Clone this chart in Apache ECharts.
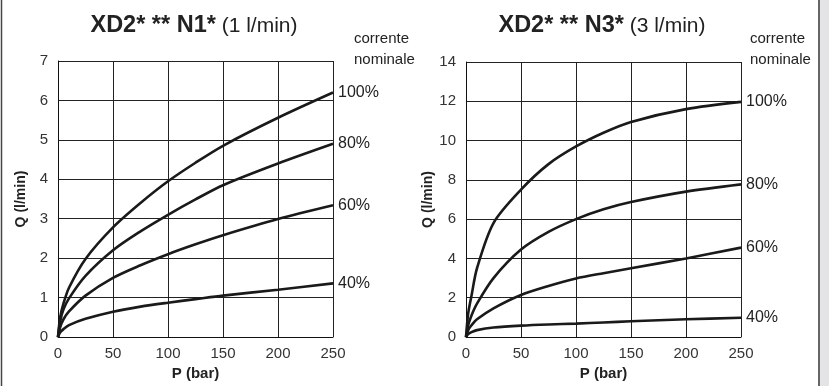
<!DOCTYPE html>
<html>
<head>
<meta charset="utf-8">
<script src="https://cdn.jsdelivr.net/npm/echarts@6/dist/echarts.min.js"></script>
<style>
html,body{margin:0;padding:0;background:#fff;}
#c{width:829px;height:386px;}
</style>
</head>
<body>
<div id="c"></div>
<script>
// ---- data ----
const pressure = [0, 2, 5, 10, 25, 50, 75, 100, 125, 150, 200, 250];
const seriesNames = ['100%', '80%', '60%', '40%'];

// XD2* ** N1* (1 l/min)
const n1_100 = [0, 0.5, 0.85, 1.25, 1.98, 2.78, 3.4, 3.95, 4.42, 4.85, 5.56, 6.2];
const n1_80  = [0, 0.4, 0.7, 0.98, 1.55, 2.2, 2.68, 3.1, 3.49, 3.85, 4.4, 4.9];
const n1_60  = [0, 0.25, 0.45, 0.65, 1.05, 1.5, 1.82, 2.1, 2.35, 2.58, 2.99, 3.34];
const n1_40  = [0, 0.12, 0.2, 0.3, 0.46, 0.64, 0.77, 0.87, 0.96, 1.05, 1.2, 1.36];

// XD2* ** N3* (3 l/min)
const n3_100 = [0, 1.2, 2.1, 3.5, 5.8, 7.5, 8.8, 9.7, 10.4, 10.95, 11.6, 11.97];
const n3_80  = [0, 0.6, 1.1, 1.7, 3.0, 4.45, 5.35, 6.0, 6.5, 6.87, 7.4, 7.77];
const n3_60  = [0, 0.35, 0.6, 0.9, 1.46, 2.14, 2.6, 2.98, 3.25, 3.5, 4.0, 4.55];
const n3_40  = [0, 0.15, 0.25, 0.35, 0.48, 0.58, 0.64, 0.68, 0.74, 0.8, 0.9, 0.98];

const xTicks = [0, 50, 100, 150, 200, 250];
const titles = [['XD2* ** N1*', ' (1 l/min)'], ['XD2* ** N3*', ' (3 l/min)']];
const yAxisName = 'Q (l/min)';
const xAxisName = 'P (bar)';
const legendNote = ['corrente', 'nominale'];

// ---- chart ----
const FONT = '"Liberation Sans", Arial, sans-serif';
const chart = echarts.init(document.getElementById('c'), null, {renderer: 'canvas'});

function pairs(ys) { return pressure.map((p, i) => [p, ys[i]]); }

function xAxisCfg(gi) {
  return {
    gridIndex: gi, type: 'value', min: xTicks[0], max: xTicks[xTicks.length - 1], interval: xTicks[1] - xTicks[0],
    name: xAxisName, nameLocation: 'middle', nameGap: 29,
    nameTextStyle: {fontFamily: FONT, fontWeight: 'bold', fontSize: 15, color: '#222'},
    axisLine: {show: true, lineStyle: {color: '#111', width: 1}},
    axisTick: {show: false},
    axisLabel: {fontFamily: FONT, fontSize: 15, color: '#333', margin: 9},
    splitLine: {show: true, lineStyle: {color: '#222', width: 1}}
  };
}
function yAxisCfg(gi, max, interval) {
  return {
    gridIndex: gi, type: 'value', min: 0, max: max, interval: interval,
    name: yAxisName, nameLocation: 'middle', nameGap: 30, nameRotate: 90,
    nameTextStyle: {fontFamily: FONT, fontWeight: 'bold', fontSize: 14, color: '#222'},
    axisLine: {show: true, lineStyle: {color: '#111', width: 1}},
    axisTick: {show: false},
    axisLabel: {fontFamily: FONT, fontSize: 15, color: '#333', margin: 10},
    splitLine: {show: true, lineStyle: {color: '#222', width: 1}}
  };
}
function lineSeries(gi, name, ys) {
  return {
    type: 'line', name: name, xAxisIndex: gi, yAxisIndex: gi,
    data: pairs(ys), smooth: 0.3, showSymbol: false, silent: true,
    lineStyle: {color: '#1a1a1a', width: 2.6},
    endLabel: {show: true, formatter: '{a}', distance: 5,
      fontFamily: FONT, fontSize: 16, color: '#222'},
    animation: false
  };
}
function titleCfg(i, left) {
  return {
    text: '{b|' + titles[i][0] + '}{n|' + titles[i][1] + '}',
    left: left, top: 9, textAlign: 'center',
    textStyle: {rich: {
      b: {fontFamily: FONT, fontWeight: 'bold', fontSize: 23.5, color: '#222'},
      n: {fontFamily: FONT, fontWeight: 'normal', fontSize: 21, color: '#222'}
    }}
  };
}

const option = {
  backgroundColor: '#ffffff',
  animation: false,
  title: [titleCfg(0, 189), titleCfg(1, 597)],
  grid: [
    {left: 58, top: 61, width: 275, height: 277},
    {left: 466, top: 62, width: 275, height: 276}
  ],
  xAxis: [xAxisCfg(0), xAxisCfg(1)],
  yAxis: [yAxisCfg(0, 7, 1), yAxisCfg(1, 14, 2)],
  series: [
    lineSeries(0, seriesNames[0], n1_100),
    lineSeries(0, seriesNames[1], n1_80),
    lineSeries(0, seriesNames[2], n1_60),
    lineSeries(0, seriesNames[3], n1_40),
    lineSeries(1, seriesNames[0], n3_100),
    lineSeries(1, seriesNames[1], n3_80),
    lineSeries(1, seriesNames[2], n3_60),
    lineSeries(1, seriesNames[3], n3_40)
  ],
  graphic: [
    {type: 'rect', shape: {x: 820, y: 0, width: 9, height: 386}, style: {fill: '#e4e4e6'}, silent: true},
    {type: 'line', shape: {x1: 1.5, y1: 0, x2: 1.5, y2: 386}, style: {stroke: '#444', lineWidth: 1.5}, silent: true},
    {type: 'line', shape: {x1: 819, y1: 0, x2: 819, y2: 386}, style: {stroke: '#333', lineWidth: 1.5}, silent: true},
    {type: 'text', left: 354, top: 31, style: {text: legendNote[0], fontFamily: FONT, fontSize: 15, fill: '#222'}},
    {type: 'text', left: 354, top: 52, style: {text: legendNote[1], fontFamily: FONT, fontSize: 15, fill: '#222'}},
    {type: 'text', left: 750, top: 31, style: {text: legendNote[0], fontFamily: FONT, fontSize: 15, fill: '#222'}},
    {type: 'text', left: 750, top: 52, style: {text: legendNote[1], fontFamily: FONT, fontSize: 15, fill: '#222'}}
  ]
};
chart.setOption(option);
</script>
</body>
</html>
